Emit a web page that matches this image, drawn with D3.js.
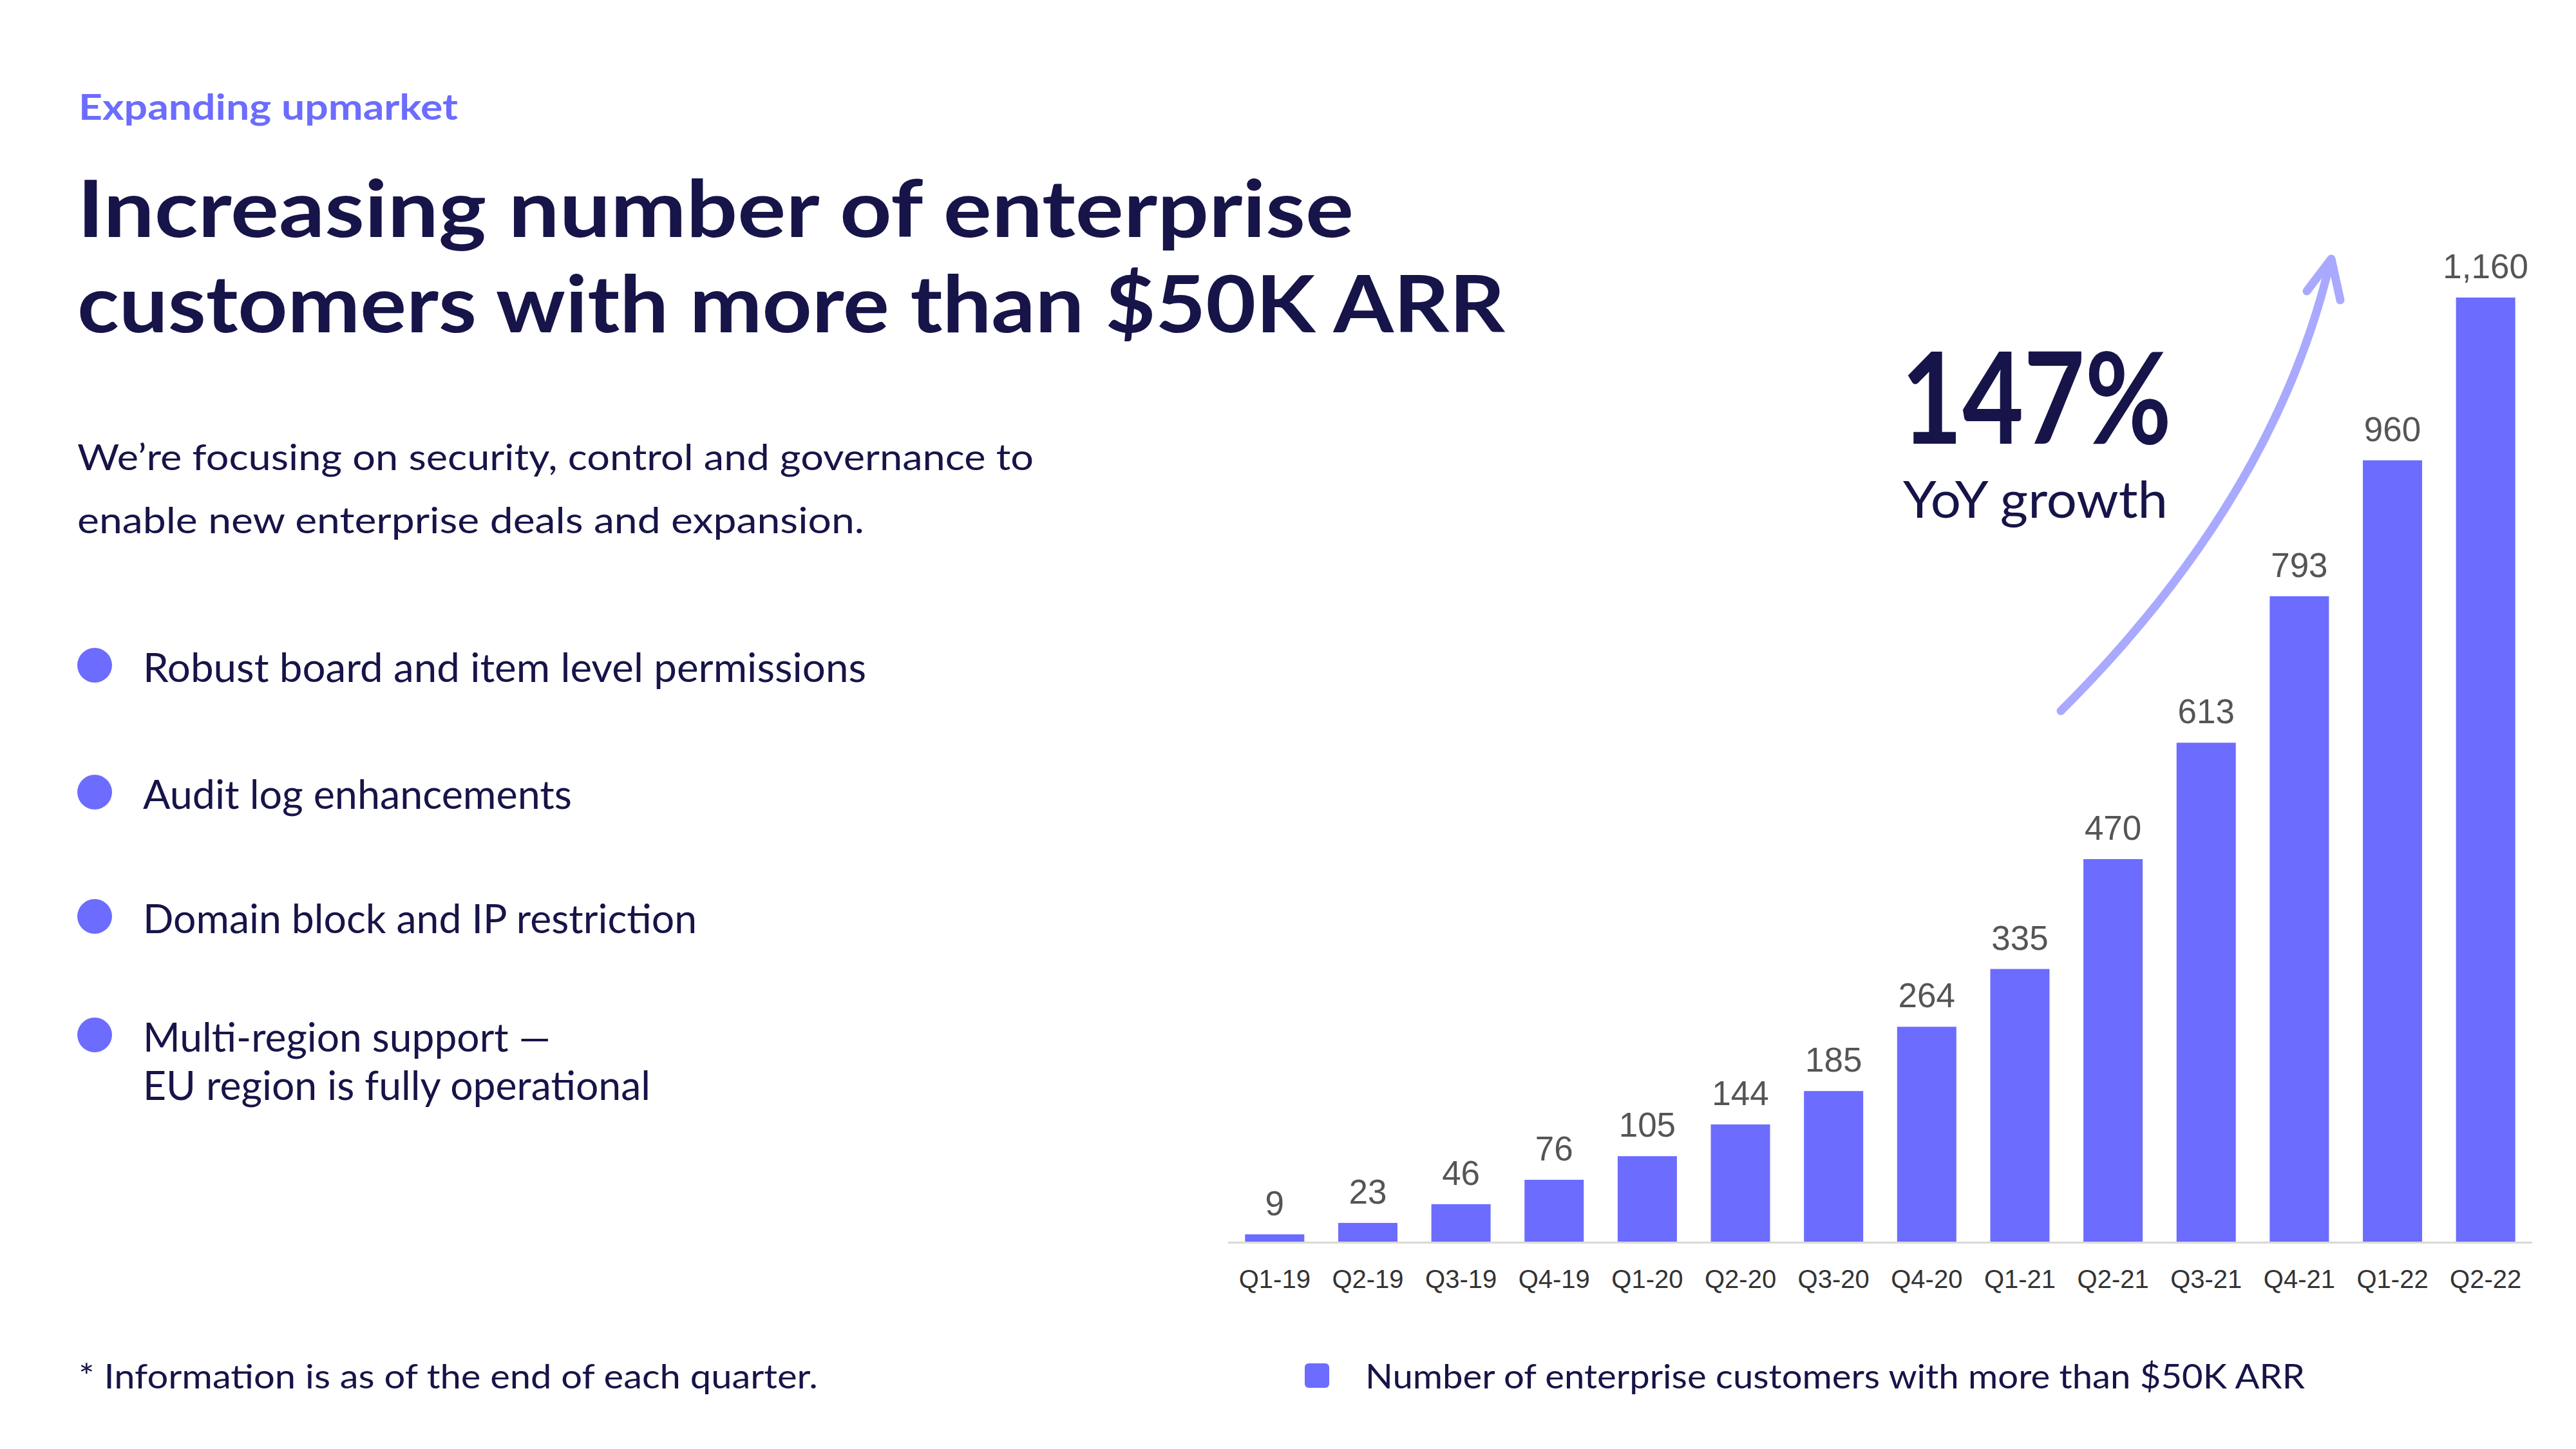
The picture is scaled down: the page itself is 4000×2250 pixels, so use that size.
<!DOCTYPE html>
<html>
<head>
<meta charset="utf-8">
<script src="https://cdn.jsdelivr.net/npm/d3@7"></script>
<style>
html,body{margin:0;padding:0;background:#fff;}
svg{display:block;}
</style>
</head>
<body>
<svg id="chart" width="4000" height="2250"></svg>
<script>
const categories = ["Q1-19","Q2-19","Q3-19","Q4-19","Q1-20","Q2-20","Q3-20","Q4-20","Q1-21","Q2-21","Q3-21","Q4-21","Q1-22","Q2-22"];
const values = [9,23,46,76,105,144,185,264,335,470,613,793,960,1160];
const valueLabels = ["9","23","46","76","105","144","185","264","335","470","613","793","960","1,160"];
const bullets = [["Robust board and item level permissions"],["Audit log enhancements"],["Domain block and IP restriction"],["Multi-region support —","EU region is fully operational"]];
const legendLabel = "Number of enterprise customers with more than $50K ARR";

const NAVY = "#161448", PURPLE = "#6c6cff", LAV = "#a9a9ff";
const FONT = "Lato, 'Noto Sans', sans-serif";
const svg = d3.select("#chart");

function fit(t, w){ t.attr("textLength", w).attr("lengthAdjust","spacingAndGlyphs"); return t; }
function txt(x, y, s, size, weight, color, w){
  const t = svg.append("text").attr("x",x).attr("y",y).text(s)
    .attr("font-family",FONT).attr("font-size",size).attr("font-weight",weight).attr("fill",color);
  if (w) fit(t,w);
  return t;
}

// Header texts
txt(122,186,"Expanding upmarket",56,700,PURPLE,589);
txt(120,368,"Increasing number of enterprise",123,700,NAVY,1982);
txt(120,516,"customers with more than $50K ARR",123,700,NAVY,2217);
txt(120,730,"We’re focusing on security, control and governance to",57,400,NAVY,1485);
txt(120,828,"enable new enterprise deals and expansion.",57,400,NAVY,1222);

// Bullets
const bulletY = [1033,1230,1423,1607];
const bulletW = [[1123],[666],[860],[633,788]];
bullets.forEach((lines,i)=>{
  svg.append("circle").attr("cx",147).attr("cy",bulletY[i]).attr("r",27).attr("fill",PURPLE);
  lines.forEach((l,j)=>{
    txt(222, bulletY[i]+26+j*75, l, 61, 400, NAVY, bulletW[i][j]);
  });
});

// Footnote
txt(122,2156,"* Information is as of the end of each quarter.",53,400,NAVY,1148);

// Chart
const x = d3.scaleBand().domain(categories).range([1907,3932]).paddingInner(0.364).paddingOuter(0.182);
const y = d3.scaleLinear().domain([0,1160]).range([1928,462]);

svg.append("g").selectAll("rect").data(values).join("rect")
  .attr("x",(d,i)=>x(categories[i]))
  .attr("y",d=>y(d))
  .attr("width",x.bandwidth())
  .attr("height",d=>y(0)-y(d))
  .attr("fill",PURPLE);

svg.append("line").attr("x1",1907).attr("x2",3932).attr("y1",y(0)+1.5).attr("y2",y(0)+1.5)
  .attr("stroke","#d9d9d9").attr("stroke-width",3);

svg.append("g").selectAll("text").data(values).join("text")
  .attr("x",(d,i)=>x(categories[i])+x.bandwidth()/2)
  .attr("y",d=>y(d)-30)
  .attr("text-anchor","middle")
  .attr("font-family","'Liberation Sans', Arial, sans-serif")
  .attr("font-size",53).attr("fill","#555555")
  .text((d,i)=>valueLabels[i]);

const xAxis = svg.append("g").attr("transform",`translate(0,${y(0)})`)
  .call(d3.axisBottom(x).tickSize(0).tickPadding(72));
xAxis.select(".domain").remove();
xAxis.selectAll("text").attr("font-family","'Liberation Sans', Arial, sans-serif")
  .attr("font-size",40).attr("fill","#333333").attr("dy",0);

// Annotation
txt(2952,689,"147%",198,700,NAVY,420);
txt(2955,804,"YoY growth",80,400,NAVY,411);

svg.append("path").attr("d","M3200,1104 Q3531,774 3618,408")
  .attr("fill","none").attr("stroke",LAV).attr("stroke-width",13).attr("stroke-linecap","round");
svg.append("path").attr("d","M3582,452 L3620,402 L3634,466")
  .attr("fill","none").attr("stroke",LAV).attr("stroke-width",13)
  .attr("stroke-linecap","round").attr("stroke-linejoin","round");

// Legend
svg.append("rect").attr("x",2026).attr("y",2117).attr("width",38).attr("height",38).attr("rx",6).attr("fill",PURPLE);
txt(2120,2156,legendLabel,53,400,NAVY,1459);
</script>
</body>
</html>
